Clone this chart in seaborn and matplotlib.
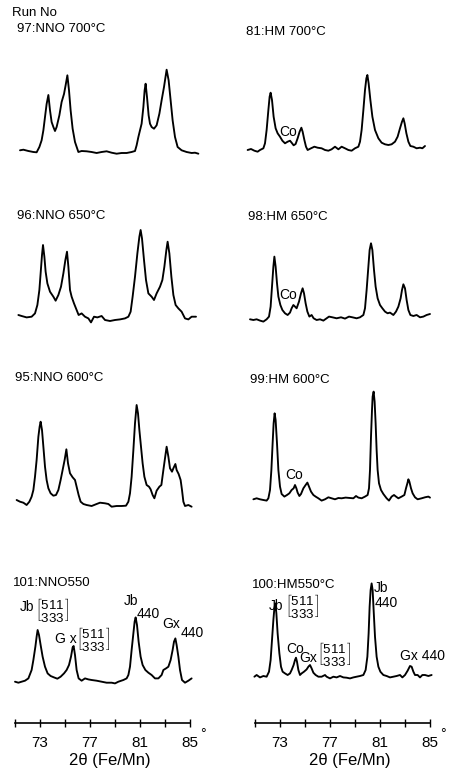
import matplotlib
matplotlib.use("Agg")
import matplotlib.pyplot as plt
import seaborn as sns

tt_97 = [71.4, 71.67, 72.07, 72.47, 72.73, 72.95, 73.13, 73.27, 73.43, 73.53, 73.67, 73.8, 73.93, 74.07, 74.2,
         74.33, 74.55, 74.73, 74.92, 75.05, 75.19, 75.32, 75.45, 75.61, 75.8, 76.07, 76.33, 76.73, 77.13, 77.53,
         77.93, 78.33, 78.73, 79.13, 79.53, 79.93, 80.33, 80.6, 80.73, 80.87, 81.0, 81.13, 81.27, 81.37, 81.45,
         81.56, 81.69, 81.8, 81.93, 82.12, 82.33, 82.55, 82.73, 82.92, 83.13, 83.29, 83.45, 83.61, 83.8, 84.01,
         84.33, 84.73, 85.13, 85.4, 85.67]
i_97 = [1.7, 2.3, 1, 0, -0.3, 5, 11.7, 21.7, 38, 48, 57, 41.7, 30, 25, 21,
        25, 36.7, 50, 58, 66.7, 76.7, 61.7, 41.7, 23.3, 10, 0, 1, 0.7, 0, -1,
        0, 0.7, -0.7, -1.7, -1, -1, 0, 1, 6.7, 15, 21.7, 28.3, 45, 61.7, 68.3,
        55, 36.7, 28.3, 25, 23.3, 26.7, 38.3, 51.7, 65, 82.3, 71.7, 51.7, 31.7, 15, 5,
        1.7, 0, -1, -0.7, -1.7]

tt_96 = [71.27, 71.53, 71.93, 72.33, 72.6, 72.79, 72.95, 73.05, 73.16, 73.24, 73.35, 73.45, 73.59, 73.8, 74.07,
         74.25, 74.47, 74.68, 74.87, 75.03, 75.16, 75.27, 75.4, 75.53, 75.72, 75.93, 76.09, 76.33, 76.6, 76.87,
         77.08, 77.32, 77.59, 77.93, 78.2, 78.6, 79.0, 79.4, 79.8, 80.07, 80.25, 80.41, 80.6, 80.79, 80.95,
         81.05, 81.16, 81.32, 81.48, 81.67, 81.93, 82.12, 82.33, 82.6, 82.79, 82.95, 83.11, 83.21, 83.35, 83.51,
         83.67, 83.85, 84.07, 84.33, 84.6, 84.87, 85.13, 85.48]
i_96 = [1.7, 0.7, -0.7, 0, 3.3, 11.7, 26.7, 43.3, 61.7, 71.7, 60, 45, 33.3, 25, 20,
        16, 21.7, 30, 43.3, 56.7, 65, 50, 26.7, 20, 13.3, 6.7, 1.7, 3.3, 0, -1.7,
        -5.7, 0, -0.7, 0.7, -3.3, -4.3, -3.3, -2.7, -1.7, 0, 5, 20, 40, 63.3, 80,
        86.7, 78.3, 56.7, 36.7, 23.3, 20, 16.7, 23.3, 30, 36.7, 50, 66.7, 75, 63.3, 40,
        21.7, 11.7, 8.3, 5, -1.7, -2.7, 0, 0]

tt_95 = [71.13, 71.4, 71.67, 71.93, 72.15, 72.33, 72.47, 72.6, 72.73, 72.87, 72.97, 73.05, 73.16, 73.27, 73.4,
         73.53, 73.67, 73.85, 74.07, 74.28, 74.47, 74.65, 74.81, 74.97, 75.11, 75.24, 75.4, 75.61, 75.8, 75.93,
         76.09, 76.25, 76.47, 76.73, 77.13, 77.53, 77.8, 78.2, 78.47, 78.73, 79.13, 79.53, 79.88, 80.07, 80.2,
         80.33, 80.47, 80.6, 80.73, 80.84, 80.95, 81.08, 81.21, 81.35, 81.53, 81.72, 81.85, 82.01, 82.15, 82.33,
         82.55, 82.71, 82.87, 83.0, 83.13, 83.27, 83.4, 83.56, 83.67, 83.83, 83.93, 84.09, 84.25, 84.36, 84.47,
         84.6, 84.87, 85.13]
i_95 = [5, 3.3, 2.3, 0, 3.3, 8.3, 15, 28.3, 45, 68.3, 78.3, 83.3, 75, 58.3, 38.3,
        25, 16.7, 11.7, 9.3, 10, 15, 25, 35, 45, 55.7, 41.7, 31.7, 27.7, 25, 18.3,
        10, 3.3, 1, 0, -1, 1, 2.3, 1.7, 1, -1.7, -1, -1, -0.7, 3.3, 11.7,
        28.3, 55, 81.7, 100, 91.7, 75, 58.3, 41.7, 28.3, 20, 18.3, 15.7, 10, 6.7, 14.3,
        18.3, 20, 35, 46.7, 58.3, 48.3, 36.7, 33.3, 36.7, 41, 35, 31, 25, 15, 3.3,
        -1, 0, -1.7]

tt_101 = [71.0, 71.27, 71.53, 71.8, 72.07, 72.33, 72.47, 72.63, 72.73, 72.81, 72.92, 73.05, 73.21, 73.4, 73.61,
          73.85, 74.12, 74.39, 74.65, 74.92, 75.13, 75.32, 75.48, 75.61, 75.69, 75.8, 75.93, 76.09, 76.33, 76.6,
          76.87, 77.13, 77.53, 77.93, 78.33, 78.73, 79.0, 79.27, 79.67, 79.93, 80.07, 80.2, 80.33, 80.47, 80.57,
          80.65, 80.76, 80.89, 81.05, 81.21, 81.43, 81.67, 81.93, 82.2, 82.47, 82.73, 82.87, 83.08, 83.27, 83.45,
          83.61, 83.72, 83.83, 83.93, 84.07, 84.2, 84.36, 84.6, 84.87, 85.13]
i_101 = [0, -1, 0, 1, 3.3, 11.7, 21.7, 35, 45, 51.7, 46.7, 36.7, 25, 15, 8.3,
         5.7, 4.3, 3, 5, 8.3, 11.7, 16.7, 25, 34.3, 35.7, 26.7, 11.7, 3.3, 1, 3.3,
         2.3, 1.7, 1, 0, -1, -1, -1.7, 0, 1.7, 3.3, 6.7, 15, 31.7, 48.3, 60,
         64.3, 56.7, 40, 25, 16.7, 11.7, 9, 6.7, 3.3, 3.3, 6.7, 11.7, 13.3, 15, 21.7,
         31.7, 40, 43.3, 36.7, 25, 11.7, 1.7, -1, 1, 3.3]

tt_81 = [70.41, 70.68, 70.95, 71.21, 71.4, 71.67, 71.8, 71.93, 72.07, 72.17, 72.25, 72.36, 72.49, 72.65, 72.81,
         73.0, 73.19, 73.4, 73.61, 73.8, 73.93, 74.09, 74.25, 74.41, 74.57, 74.71, 74.81, 74.95, 75.08, 75.21,
         75.48, 75.75, 76.01, 76.33, 76.6, 76.87, 77.13, 77.4, 77.67, 77.93, 78.2, 78.47, 78.73, 79.0, 79.27,
         79.4, 79.53, 79.67, 79.8, 79.91, 79.99, 80.09, 80.23, 80.39, 80.6, 80.87, 81.13, 81.4, 81.67, 81.93,
         82.2, 82.41, 82.6, 82.76, 82.87, 82.97, 83.11, 83.27, 83.43, 83.67, 83.93, 84.2, 84.39, 84.6]
i_81 = [0, 1, -0.7, -1.7, 0, 1.7, 6.7, 20, 40, 53.3, 57.3, 50, 33.3, 21.7, 16.7,
        13.3, 9.3, 6.7, 8.3, 9.3, 7.3, 4.7, 6, 11.7, 18.3, 22.3, 18.3, 10, 3.3, 0,
        1.7, 3.3, 2.3, 1.7, 0, -0.7, 0.7, 3.3, 0.7, 3.3, 1.7, 0, -0.7, 1.7, 3.3,
        8.3, 20, 40, 60, 71.7, 75, 66.7, 50, 33.3, 20, 11.7, 7.3, 5.7, 5, 5.7,
        8.3, 13.3, 21.7, 28.3, 31.7, 26.7, 16.7, 8.3, 4, 3.3, 1.7, 2.3, 1.7, 4]

tt_98 = [70.6, 70.87, 71.13, 71.4, 71.67, 71.93, 72.12, 72.25, 72.36, 72.47, 72.55, 72.65, 72.76, 72.87, 73.03,
         73.19, 73.4, 73.61, 73.8, 73.93, 74.07, 74.2, 74.33, 74.52, 74.68, 74.81, 74.92, 75.05, 75.19, 75.35,
         75.53, 75.69, 75.93, 76.2, 76.47, 76.73, 76.92, 77.19, 77.53, 77.88, 78.2, 78.52, 78.79, 79.13, 79.4,
         79.67, 79.8, 79.93, 80.07, 80.17, 80.28, 80.39, 80.52, 80.65, 80.81, 81.0, 81.19, 81.4, 81.61, 81.8,
         82.07, 82.28, 82.47, 82.65, 82.76, 82.87, 83.0, 83.13, 83.27, 83.43, 83.67, 83.93, 84.2, 84.47, 84.73,
         85.0]
i_98 = [-1, -1.7, -1, -2.3, -3.3, -1, 1.7, 11.7, 31.7, 51.7, 61.7, 51.7, 35, 21.7, 13.3,
        8.3, 5, 3.3, 5.7, 10, 13.3, 11.7, 10, 16.7, 25, 30, 25, 15, 6.7, 1.7,
        3.3, 0, -1.7, -1, -2.3, 0, 1.7, 1, 0, 1, -0.3, 1.7, 1, 0, 1,
        3.3, 10, 28.3, 51.7, 68.3, 75, 68.3, 48.3, 31.7, 20, 13.3, 10, 6.7, 5, 5.7,
        3.3, 6.7, 11.7, 20, 28.3, 34, 30, 18.3, 8.3, 3.3, 2.3, 3.3, 1, 1.7, 3.3,
        4.3]

tt_99 = [70.87, 71.13, 71.4, 71.67, 71.93, 72.07, 72.2, 72.31, 72.41, 72.49, 72.57, 72.65, 72.76, 72.87, 73.0,
         73.13, 73.35, 73.56, 73.75, 73.93, 74.09, 74.2, 74.31, 74.41, 74.55, 74.68, 74.87, 75.05, 75.19, 75.32,
         75.48, 75.67, 75.85, 76.07, 76.33, 76.6, 76.87, 77.13, 77.4, 77.67, 77.93, 78.25, 78.6, 78.87, 79.08,
         79.27, 79.53, 79.8, 80.01, 80.12, 80.2, 80.28, 80.36, 80.41, 80.49, 80.57, 80.65, 80.73, 80.81, 80.92,
         81.08, 81.27, 81.53, 81.72, 81.93, 82.12, 82.28, 82.47, 82.73, 82.95, 83.08, 83.19, 83.27, 83.35, 83.48,
         83.61, 83.8, 84.01, 84.33, 84.6, 84.87, 85.0]
i_99 = [-1, 0, -1, -1.7, -2.3, 0, 8.3, 28.3, 55, 75, 85, 78.3, 55, 28.3, 11.7,
        4.3, 1.7, 3.3, 5, 8.3, 10, 13.3, 10, 5.7, 2.3, 4.3, 10, 13.3, 15.7, 11.7,
        6.7, 3.3, 1.7, 0, -2.3, -1, 1, 0, -1, 0.3, 0, 0.7, 0.3, 0, 2.3,
        0.7, 0, 1.7, 3.3, 10, 28.3, 61.7, 88.3, 101.7, 106.7, 96.7, 75, 48.3, 28.3, 15,
        8.3, 4.3, 0, -2.3, 1.7, 3.3, 1.7, 0, 1.7, 3.3, 10, 15, 19, 16.7, 10,
        5, 1, -1, 0, 1, 1.7, 0.7]

tt_100 = [70.95, 71.13, 71.4, 71.67, 71.93, 72.12, 72.25, 72.36, 72.47, 72.55, 72.63, 72.71, 72.81, 72.95, 73.08,
          73.21, 73.4, 73.61, 73.8, 73.93, 74.09, 74.2, 74.28, 74.36, 74.47, 74.6, 74.73, 74.92, 75.13, 75.27,
          75.4, 75.53, 75.67, 75.85, 76.07, 76.33, 76.6, 76.73, 77.0, 77.27, 77.53, 77.8, 78.07, 78.33, 78.6,
          78.87, 79.13, 79.4, 79.67, 79.85, 79.99, 80.09, 80.17, 80.25, 80.33, 80.41, 80.49, 80.6, 80.73, 80.87,
          81.03, 81.27, 81.53, 81.8, 82.07, 82.33, 82.6, 82.79, 83.0, 83.21, 83.4, 83.53, 83.67, 83.8, 84.01,
          84.2, 84.39, 84.6, 84.87, 85.13]
i_100 = [0, 1.7, -0.7, 0.7, 0, 5, 16.7, 36.7, 56.7, 68.3, 73.3, 63.3, 43.3, 23.3, 10,
         5, 3.3, 1.7, 3.3, 6.7, 11.7, 16.7, 19, 15, 6.7, 1.7, 3.3, 5, 7.3, 10,
         11.7, 8.3, 4, 1.7, 0, 0, 1.7, 0, -1.7, 0, -0.7, 0.7, -0.7, -1, -1.7,
         -0.7, 0, 0.7, 1.7, 6.7, 20, 43.3, 70, 86.7, 93.3, 86.7, 66.7, 40, 20, 10,
         5, 1.7, 0.7, -0.7, 0, 0.7, 1.7, -0.7, 1.7, 6, 10.7, 10, 5, 1.7, 1.7,
         -0.7, 1.7, 1.7, 0.7, 1.7]

run_labels = ["97:NNO 700°C", "96:NNO 650°C", "95:NNO 600°C", "101:NNO550",
              "81:HM 700°C", "98:HM 650°C", "99:HM 600°C", "100:HM550°C"]
tick_pos = [71, 73, 75, 77, 79, 81, 83, 85]
tick_lab = ["", "73", "", "77", "", "81", "", "85"]
xlabel = "2θ (Fe/Mn)"

# ---- layout (pixels) ----
W, H = 451, 771
PX_PER_DEG = 12.5
XMIN, XMAX = 70.2, 86.0
AXIS_Y = 723.3

sns.set_style("white")
plt.rcParams["font.family"] = ["Liberation Sans", "DejaVu Sans"]
plt.rcParams["mathtext.fontset"] = "custom"
plt.rcParams["mathtext.rm"] = "Liberation Sans"
plt.rcParams["text.color"] = "black"

fig = plt.figure(figsize=(W / 100, H / 100), dpi=100)


def fx(x):
    return x / W


def fy(y):
    return 1 - y / H


# (trace x, trace y, column left px at 71 deg, baseline px, title, title pos, bottom?)
panels = [
    (tt_97, i_97, 15, 152.0, run_labels[0], (17, 29), False),
    (tt_96, i_96, 15, 316.7, run_labels[1], (17, 216), False),
    (tt_95, i_95, 15, 505.0, run_labels[2], (15, 378), False),
    (tt_101, i_101, 15, 681.7, run_labels[3], (13, 583), True),
    (tt_81, i_81, 255, 150.0, run_labels[4], (246, 32), False),
    (tt_98, i_98, 255, 318.3, run_labels[5], (248, 217), False),
    (tt_99, i_99, 255, 498.3, run_labels[6], (250, 380), False),
    (tt_100, i_100, 255, 676.7, run_labels[7], (252, 585), True),
]

TOP = 112
for tt, inten, x71, base, title, tpos, bottom in panels:
    left = x71 - (71 - XMIN) * PX_PER_DEG
    width = (XMAX - XMIN) * PX_PER_DEG
    ybot = AXIS_Y if bottom else base + 8
    ytop = base - TOP
    ax = fig.add_axes([fx(left), fy(ybot), fx(width), (ybot - ytop) / H])
    sns.lineplot(x=tt, y=inten, ax=ax, color="black", lw=1.35, sort=False, estimator=None)
    ax.set_xlim(XMIN, XMAX)
    ax.set_ylim(-(ybot - base), TOP)
    ax.patch.set_alpha(0)
    ax.set_yticks([])
    ax.set_ylabel("")
    for s in ["left", "right", "top"]:
        ax.spines[s].set_visible(False)
    if bottom:
        ax.spines["bottom"].set_bounds(71, 85)
        ax.spines["bottom"].set_linewidth(1.2)
        ax.spines["bottom"].set_color("black")
        ax.set_xticks(tick_pos)
        ax.set_xticklabels(tick_lab)
        ax.tick_params(axis="x", bottom=True, direction="inout", length=6, width=1.0, pad=6,
                       labelsize=11, colors="black")
        fig.text(fx(x71 + 188), fy(734), "°", fontsize=10, ha="center", va="center")
        fig.text(fx(x71 + 95), fy(761), xlabel, fontsize=12, ha="center", va="center")
    else:
        ax.spines["bottom"].set_visible(False)
        ax.set_xticks([])
    fig.text(fx(tpos[0]), fy(tpos[1]), title, fontsize=9.5, ha="left", va="center")

fig.text(fx(12), fy(13), "Run No", fontsize=9.5, ha="left", va="center")

# ---- peak labels ----
br = r"$\genfrac{[}{]}{0}{0}{511}{333}$"
notes = [
    (27, 607, "Jb"), (52, 610, br), (66, 639, "G x"), (93, 639, br),
    (131, 601, "Jb"), (148, 614, "440"), (171, 624, "Gx"), (192, 633, "440"),
    (276, 606, "Jb"), (302, 606, br), (295, 649, "Co"), (308, 658, "Gx"), (334, 655, br),
    (381, 588, "Jb"), (386, 603, "440"), (422, 656, "Gx 440"),
    (288, 132, "Co"), (288, 295, "Co"), (294, 475, "Co"),
]
for x, y, s in notes:
    fs = 9.5 if s == br else 10
    fig.text(fx(x), fy(y), s, fontsize=fs, ha="center", va="center")

fig.savefig("out.png", dpi=100)
plt.close(fig)
